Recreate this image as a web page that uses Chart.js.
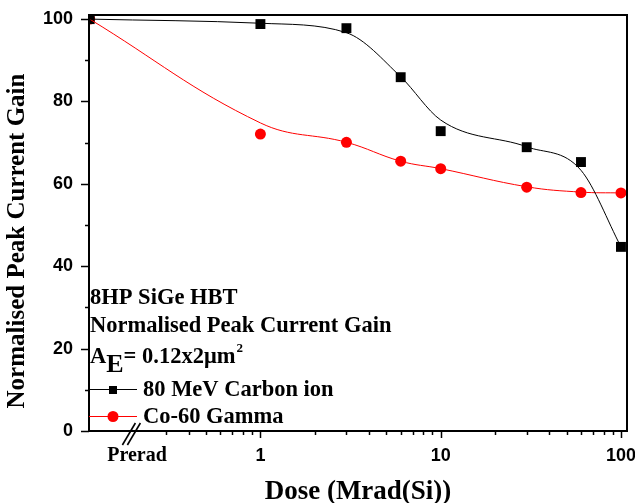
<!DOCTYPE html>
<html>
<head>
<meta charset="utf-8">
<script src="https://cdn.jsdelivr.net/npm/chart.js@4.4.0/dist/chart.umd.min.js"></script>
<style>
  html, body { margin: 0; padding: 0; background: #fff; }
  #wrap { width: 635px; height: 503px; position: relative; }
</style>
</head>
<body>
<div id="wrap"><canvas id="gain-chart"></canvas></div>
<script>
// dose in Mrad(Si); the "Prerad" point is drawn at the left edge of the log axis
const doses = [0.113, 1, 3, 6, 10, 30, 60, 100];
const carbonGain = [100, 98.8, 97.8, 85.9, 72.8, 68.9, 65.3, 44.7];
const gammaGain = [100, 72.1, 70.1, 65.5, 63.7, 59.2, 57.9, 57.8];
// fitted curves at the same doses
const carbonFit = [100, 99.0, 96.7, 86.0, 75.5, 69.0, 63.3, 44.7];
const gammaFit = [100, 74.8, 70.1, 65.5, 63.7, 59.3, 58.0, 57.8];
const xMajorTicks = [1, 10, 100];
const yMajorTicks = [0, 20, 40, 60, 80, 100];
const preradTick = 0.2;
const infoLines = ['8HP SiGe HBT', 'Normalised Peak Current Gain'];
const seriesNames = ['80 MeV Carbon ion', 'Co-60 Gamma'];

function pts(xs, ys) {
    return xs.map(function (x, i) { return { x: x, y: ys[i] }; });
}

const TIMES = '"Liberation Serif", "Times New Roman", serif';
const serif = 'bold 22.5px ' + TIMES;

const extras = {
    id: 'extras',
    afterDraw: function (chart) {
        const ctx = chart.ctx;
        const xs = chart.scales.x, ys = chart.scales.y;
        const a = chart.chartArea;
        ctx.save();
        ctx.strokeStyle = '#000';
        ctx.fillStyle = '#000';
        // frame
        ctx.lineWidth = 2;
        ctx.strokeRect(a.left, a.top, a.right - a.left, a.bottom - a.top);
        // y ticks
        ctx.lineWidth = 1.5;
        for (let v = 0; v <= 100; v += 10) {
            const y = Math.round(ys.getPixelForValue(v)) + 0.5;
            const len = v % 20 === 0 ? 8 : 4;
            ctx.beginPath();
            ctx.moveTo(a.left - len, y);
            ctx.lineTo(a.left, y);
            ctx.stroke();
        }
        // x ticks
        const minor = [0.3, 0.4, 0.5, 0.6, 0.7, 0.8, 0.9, 2, 3, 4, 5, 6, 7, 8, 9, 20, 30, 40, 50, 60, 70, 80, 90];
        minor.concat(xMajorTicks).forEach(function (v) {
            const x = Math.round(xs.getPixelForValue(v)) + 0.5;
            const len = xMajorTicks.indexOf(v) >= 0 ? 7 : 4;
            ctx.beginPath();
            ctx.moveTo(x, a.bottom);
            ctx.lineTo(x, a.bottom + len);
            ctx.stroke();
        });
        // axis break and Prerad label
        const bx = xs.getPixelForValue(preradTick);
        ctx.lineWidth = 1.6;
        [-3, 2].forEach(function (o) {
            ctx.beginPath();
            ctx.moveTo(bx - 9 + o, a.bottom + 14);
            ctx.lineTo(bx + 4 + o, a.bottom - 8);
            ctx.stroke();
        });
        ctx.font = 'bold 20px ' + TIMES;
        ctx.textAlign = 'center';
        ctx.textBaseline = 'middle';
        ctx.fillText('Prerad', 137, 456);
        // axis titles
        ctx.font = 'bold 27px ' + TIMES;
        ctx.fillText('Dose (Mrad(Si))', 358, 492);
        ctx.save();
        ctx.translate(18, 241);
        ctx.rotate(-Math.PI / 2);
        ctx.font = 'bold 25px ' + TIMES;
        ctx.fillText('Normalised Peak Current Gain', 0, 0);
        ctx.restore();
        // info text
        ctx.font = serif;
        ctx.textAlign = 'left';
        ctx.textBaseline = 'alphabetic';
        const tx = a.left + 1;
        ctx.fillText(infoLines[0], tx, 304);
        ctx.fillText(infoLines[1], tx, 332);
        ctx.fillText('A', tx, 363);
        let w = ctx.measureText('A').width;
        ctx.font = 'bold 26px ' + TIMES;
        ctx.fillText('E', tx + w, 372);
        w += ctx.measureText('E').width;
        ctx.font = serif;
        ctx.fillText('= 0.12x2\u03bcm', tx + w, 363);
        w += ctx.measureText('= 0.12x2\u03bcm').width;
        ctx.font = 'bold 13px ' + TIMES;
        ctx.fillText('2', tx + w + 1, 352);
        // legend
        const ly = [389, 416];
        const colors = ['#000', '#ff0000'];
        ly.forEach(function (y, i) {
            ctx.strokeStyle = colors[i];
            ctx.fillStyle = colors[i];
            ctx.lineWidth = 1;
            ctx.beginPath();
            ctx.moveTo(a.left, y + 0.5);
            ctx.lineTo(a.left + 48, y + 0.5);
            ctx.stroke();
            if (i === 0) {
                ctx.fillRect(a.left + 20, y - 3, 8, 8);
            } else {
                ctx.beginPath();
                ctx.arc(a.left + 24, y + 0.5, 5.5, 0, Math.PI * 2);
                ctx.fill();
            }
            ctx.fillStyle = '#000';
            ctx.font = serif;
            ctx.textBaseline = 'alphabetic';
            ctx.fillText(seriesNames[i], a.left + 54, y + 7);
        });
        ctx.restore();
    }
};

new Chart(document.getElementById('gain-chart').getContext('2d'), {
    type: 'scatter',
    data: {
        datasets: [{
            label: seriesNames[0] + ' fit',
            data: pts(doses, carbonFit),
            showLine: true,
            borderColor: '#000',
            borderWidth: 1,
            pointRadius: 0,
            cubicInterpolationMode: 'monotone'
        }, {
            label: seriesNames[1] + ' fit',
            data: pts(doses, gammaFit),
            showLine: true,
            borderColor: '#ff0000',
            borderWidth: 1,
            pointRadius: 0,
            tension: 0.4
        }, {
            label: seriesNames[0],
            data: pts(doses, carbonGain),
            pointStyle: 'rect',
            pointRadius: 7,
            backgroundColor: '#000',
            borderColor: '#000',
            borderWidth: 0
        }, {
            label: seriesNames[1],
            data: pts(doses, gammaGain),
            pointStyle: 'circle',
            pointRadius: 5.5,
            backgroundColor: '#ff0000',
            borderColor: '#ff0000',
            borderWidth: 0
        }]
    },
    options: {
        responsive: true,
        maintainAspectRatio: false,
        animation: false,
        layout: { padding: { top: 15, right: 8, left: 0, bottom: 0 } },
        plugins: { legend: { display: false }, tooltip: { enabled: false } },
        scales: {
            x: {
                type: 'logarithmic',
                min: 0.112,
                max: 108,
                grid: { display: false },
                border: { display: false },
                afterBuildTicks: function (s) { s.ticks = xMajorTicks.map(function (v) { return { value: v }; }); },
                afterFit: function (s) { s.height = 72; s.paddingLeft = 0; s.paddingRight = 0; },
                ticks: {
                    color: '#000',
                    padding: 6,
                    maxRotation: 0,
                    autoSkip: false,
                    font: { family: '"Liberation Sans", Arial, sans-serif', size: 18, weight: 'bold' },
                    callback: function (v) { return String(v); }
                }
            },
            y: {
                min: 0,
                max: 101,
                grid: { display: false },
                border: { display: false },
                afterBuildTicks: function (s) { s.ticks = yMajorTicks.map(function (v) { return { value: v }; }); },
                afterFit: function (s) { s.width = 89; s.paddingTop = 0; s.paddingBottom = 0; },
                ticks: {
                    color: '#000',
                    padding: 8,
                    font: { family: '"Liberation Sans", Arial, sans-serif', size: 18, weight: 'bold' }
                }
            }
        }
    },
    plugins: [extras]
});
</script>
</body>
</html>
